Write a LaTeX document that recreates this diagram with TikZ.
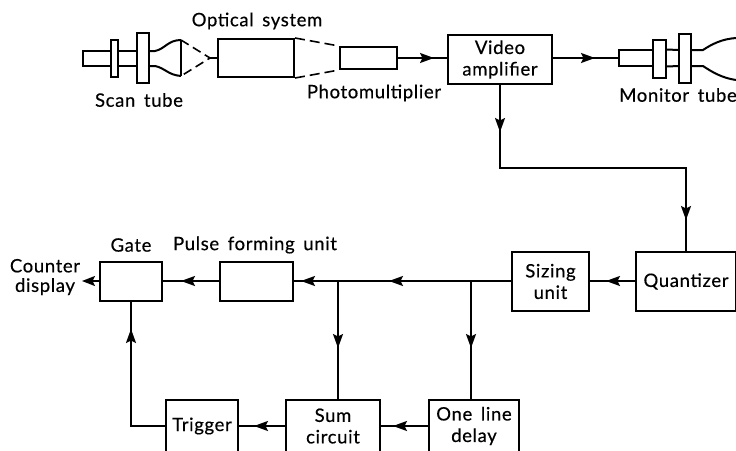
\documentclass[tikz,border=0pt]{standalone}
\usepackage{fontspec}
\setmainfont[LetterSpace=3.5,WordSpace=1.6,FakeBold=0.4]{Lato}
\usetikzlibrary{positioning,arrows.meta,decorations.markings}

\begin{document}
\begin{tikzpicture}[
  x=1pt, y=-1pt,
  line width=2pt,
  box/.style={draw, inner sep=0pt, align=center, font=\fontsize{18.5}{21.5}\selectfont},
  tag/.style={inner sep=0pt, align=center, font=\fontsize{18.5}{19.5}\selectfont},
  arrow/.style={-{Stealth[length=13pt,width=10pt,inset=2.5pt]}},
  tipat/.style={postaction={decorate,decoration={markings,mark=at position #1 with {\arrow{Stealth[length=14pt,width=10pt,inset=2.5pt]}}}}},
  tube/.style={draw, fill=white, line width=2pt}
]
\useasboundingbox (0,0) rectangle (736,450);

% top row
\node[box, minimum width=76pt, minimum height=38pt] (optical) at (256,58) {};
\node[box, minimum width=57pt, minimum height=22pt, right=44pt of optical] (photo) {};
\node[box, minimum width=104pt, minimum height=49pt] (video) at (500,59.5) {Video\\amplifier};
\node[tube, inner sep=0pt, minimum width=34pt, minimum height=16pt] (neck) at (636,58) {};

% scan tube
\draw[tube] (83,51) rectangle (137,66);
\draw[tube] (111,40) rectangle (118,77);
\draw[tube] (137,33) rectangle (149,83);
\draw (149,51) -- (155,51) .. controls (165,49) and (168,40) .. (181,40);
\draw (149,66) -- (155,66) .. controls (165,68) and (168,75) .. (181,76);
\coordinate (screentop) at (181,40);
\coordinate (screenbot) at (181,76);
\coordinate (focus) at (210,58);
\draw (screentop) -- (screenbot);
\draw[dashed, line width=1.6pt, dash pattern=on 9pt off 5pt] (screentop) -- (focus) -- (screenbot);
\draw[line width=1.6pt] (focus) -- (optical.west);
\draw[dashed, line width=1.6pt, dash pattern=on 10pt off 5pt] (optical.north east) -- (photo.north west);
\draw[dashed, line width=1.6pt, dash pattern=on 10pt off 5pt] (optical.south east) -- (photo.south west);

% monitor tube
\draw (neck.north east) -- (679,50);
\draw (neck.south east) -- (679,66);
\draw[tube] (653,40) rectangle (666,78);
\draw[tube] (679,34) rectangle (691,83);
\draw (691,50) -- (703,50) .. controls (712,44) and (722,39) .. (736,38);
\draw (691,66) -- (703,66) .. controls (712,72) and (722,78) .. (736,80);

% lower blocks
\node[box, minimum width=100pt, minimum height=59pt] (quant) at (686,281.5) {Quantizer};
\node[box, minimum width=77pt, minimum height=59pt, left=45pt of quant] (sizing) {Sizing\\unit};
\node[box, minimum width=73pt, minimum height=39pt] (pulse) at (256.5,281) {};
\node[box, minimum width=62pt, minimum height=39pt, left=56pt of pulse] (gate) {};
\node[box, minimum width=90pt, minimum height=52pt] (delay) at (474,426) {One line\\delay};
\node[box, minimum width=94pt, minimum height=52pt, left=47pt of delay] (sum) {Sum\\circuit};
\node[box, minimum width=72pt, minimum height=52pt, left=46pt of sum] (trigger) {Trigger};

% labels
\node[tag] (optlabel) at (257,21) {Optical system};
\node[tag] (scanlabel) at (139,100) {Scan tube};
\node[tag] (photolabel) at (374,93) {Photomultiplier};
\node[tag] (monlabel) at (678,95) {Monitor tube};
\node[tag] (gatelabel) at (131,245) {Gate};
\node[tag] (pulselabel) at (255,245) {Pulse forming unit};
\node[tag] (counter) at (45,277) {Counter\\display};

% connectors
\coordinate (bendleft) at (video.south |- 0,168);
\coordinate (bendright) at (quant.north |- 0,168);
\coordinate (brancha) at (338,281);
\coordinate (branchb) at (471,281);
\coordinate (out) at (82,281);
\draw[tipat=36pt] (photo) -- (video.west |- photo);
\draw[tipat=42pt] (video.east |- neck) -- (neck);
\draw[tipat=47pt, tipat=321pt] (video.south) -- (bendleft) -- (bendright) -- (quant.north);
\draw[tipat=29pt] (quant.west |- branchb) -- (sizing.east |- branchb);
\draw[tipat=122pt] (sizing.west |- branchb) -- (branchb) -- (brancha);
\draw[tipat=37pt] (brancha) -- (pulse.east |- brancha);
\draw[tipat=38pt] (pulse) -- (gate);
\draw[arrow] (gate.west |- out) -- (out);
\draw[tipat=67pt] (brancha) -- (brancha |- sum.north);
\draw[tipat=67pt] (branchb) -- (branchb |- delay.north);
\draw[tipat=35pt] (delay) -- (sum);
\draw[tipat=31pt] (sum) -- (trigger);
\draw[tipat=131pt] (trigger) -| (gate);
\end{tikzpicture}
\end{document}
